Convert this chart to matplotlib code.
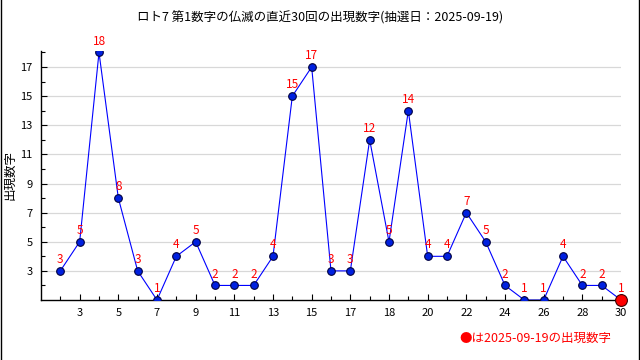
import matplotlib
matplotlib.use("Agg")
import matplotlib.pyplot as plt
from matplotlib.lines import Line2D

plt.rcParams['font.family'] = ['Noto Sans CJK JP', 'DejaVu Sans']

# 直近30回の第1数字
positions = list(range(1, 31))
values = [3, 5, 18, 8, 3, 1, 4, 5, 2, 2, 2, 4, 15, 17, 3, 3, 12, 5, 14, 4,
          4, 7, 5, 2, 1, 1, 4, 2, 2, 1]
tick_pos = [2, 4, 6, 8, 10, 12, 14, 16, 18, 20, 22, 24, 26, 28, 30]
tick_labels = ['3', '5', '7', '9', '11', '13', '15', '17', '18', '20', '22',
               '24', '26', '28', '30']
y_ticks = [3, 5, 7, 9, 11, 13, 15, 17]

title = 'ロト7 第1数字の仏滅の直近30回の出現数字(抽選日：2025-09-19)'
note = '●は2025-09-19の出現数字'

fig = plt.figure(figsize=(6.4, 3.6), dpi=100)
ax = fig.add_axes([41/640, 1 - 300/360, 580/640, 249/360])

ax.plot(positions, values, color='blue', lw=0.8, zorder=2)
ax.plot(positions[:-1], values[:-1], 'o', ms=5.5, mfc='#0020e0', mec='#000040',
        mew=0.8, zorder=3)
ax.plot(positions[-1], values[-1], 'o', ms=8.5, mfc='red', mec='#400000',
        mew=0.8, zorder=4, clip_on=False)

for x, v in zip(positions, values):
    ax.annotate(str(v), (x, v), xytext=(0, 3.5), textcoords='offset points',
                ha='center', va='bottom', color='red', fontsize=8.5,
                annotation_clip=False, zorder=5)

ax.set_xlim(0, 30)
ax.set_ylim(1, 18.1)
ax.set_xticks(positions, minor=True)
ax.set_xticks(tick_pos)
ax.set_xticklabels(tick_labels)
ax.set_yticks(y_ticks)
ax.set_yticks(range(2, 19, 2), minor=True)
ax.tick_params(axis='both', which='major', direction='in', length=4,
               width=0.8, labelsize=8, pad=6)
ax.tick_params(axis='both', which='minor', direction='in', length=3,
               width=0.8)
ax.grid(axis='y', which='major', color='#d8d8d8', lw=0.9)
ax.set_axisbelow(True)
for s in ['top', 'right']:
    ax.spines[s].set_visible(False)
for s in ['left', 'bottom']:
    ax.spines[s].set_linewidth(1.0)

fig.text(0.5, 1 - 18/360, title, ha='center', va='center', fontsize=9)
fig.text(10/640, 1 - 175/360, '出現数字', rotation=90, ha='center',
         va='center', fontsize=9)
fig.text(611/640, 1 - 338/360, note, ha='right', va='center', color='red',
         fontsize=9)

fig.add_artist(Line2D([0.5/640, 0.5/640], [0, 1], color='black', lw=1.0))
fig.add_artist(Line2D([638.5/640, 638.5/640], [0, 1], color='black', lw=1.0))

fig.savefig('out.png', dpi=100)
